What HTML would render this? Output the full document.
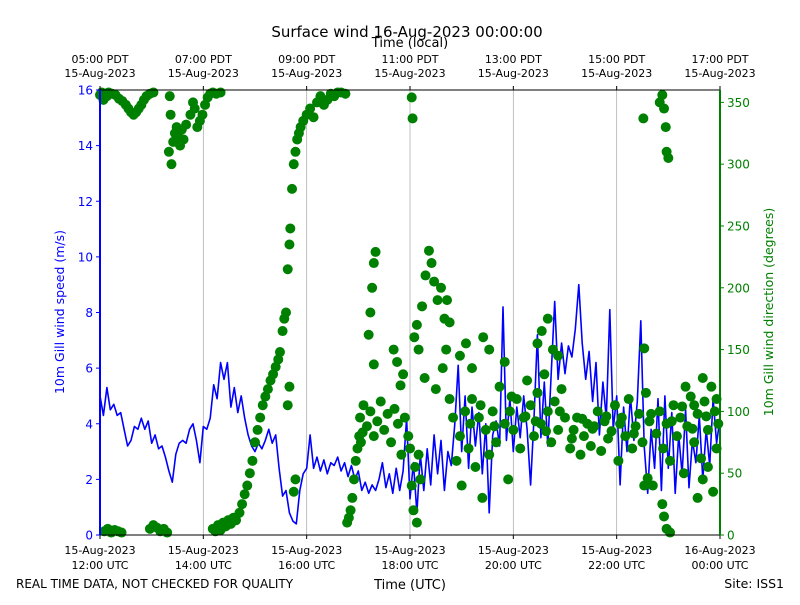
<!DOCTYPE html>
<html><head><meta charset="utf-8"><style>
body{margin:0;background:#fff;}
svg text{font-family:"DejaVu Sans","Liberation Sans",sans-serif;}
</style></head><body>
<svg id="chart" width="800" height="600" xmlns="http://www.w3.org/2000/svg">
<text x="407" y="37" font-size="15" text-anchor="middle">Surface wind 16-Aug-2023 00:00:00</text>
<text x="410" y="47" font-size="13" text-anchor="middle">Time (local)</text>
<text x="410" y="589" font-size="13" text-anchor="middle">Time (UTC)</text>
<text x="16" y="588" font-size="12">REAL TIME DATA, NOT CHECKED FOR QUALITY</text>
<text x="784" y="588" font-size="12.5" text-anchor="end">Site: ISS1</text>
<text transform="translate(64,312) rotate(-90)" font-size="12.5" fill="#0000ff" text-anchor="middle">10m Gill wind speed (m/s)</text>
<text transform="translate(773,312) rotate(-90)" font-size="12.5" fill="#008000" text-anchor="middle">10m Gill wind direction (degrees)</text>
<g id="grid"></g><g id="speed"></g><g id="dir"></g><g id="axes"></g>
</svg>
<script>
const speedStartMin = 0;
const speedStepMin = 4;
const speedValues = [5.0,4.3,5.3,4.5,4.7,4.3,4.4,3.8,3.2,3.4,3.9,3.8,4.2,3.8,4.1,3.3,3.6,3.1,3.2,2.8,2.3,1.9,2.9,3.3,3.4,3.3,3.8,4.0,3.4,2.6,3.9,3.8,4.2,5.4,4.9,6.2,5.6,6.2,4.6,5.3,4.4,5.0,4.2,3.6,3.2,3.0,3.3,3.1,3.4,3.8,3.3,3.6,2.4,1.4,1.6,0.8,0.5,0.4,1.6,2.2,2.4,3.6,2.4,2.8,2.3,2.7,2.2,2.6,2.5,2.8,2.3,2.6,2.1,2.5,2.0,2.3,1.6,1.9,1.5,1.8,1.6,2.0,2.6,1.7,2.2,1.5,2.4,1.6,2.3,4.2,1.3,2.6,0.8,2.9,1.6,3.1,1.8,3.6,2.2,3.4,1.6,3.0,2.5,4.0,6.1,3.0,5.0,2.4,4.6,3.2,4.4,2.2,4.0,0.8,3.6,4.1,3.2,8.2,3.4,4.9,3.0,4.6,3.5,5.0,3.8,1.8,4.2,7.2,3.5,5.5,3.2,5.8,8.4,5.6,6.9,5.8,6.8,6.4,7.4,9.0,6.9,5.6,6.6,4.8,6.2,3.6,5.5,4.2,8.1,3.8,5.0,1.8,4.6,3.0,5.0,3.4,4.8,7.7,3.2,1.5,3.8,2.4,4.9,1.6,5.0,2.4,4.4,1.5,3.6,2.2,4.5,1.7,3.4,2.6,4.3,2.0,3.8,2.5,4.9,3.3,4.2];
const dirTimes = [0,2,4,6,8,10,14,18,22,26,30,33,36,39,42,45,48,51,54,58,62,5,9,13,17,21,25,58,62,66,70,74,78,81,82,80,83,85,87,89,91,93,95,97,100,105,108,110,113,116,119,122,125,128,131,135,140,131,134,137,140,143,146,149,152,155,158,162,165,168,171,174,177,180,183,186,189,192,195,198,201,204,207,209,212,214,216,218,220,221,223,225,227,229,231,233,236,218,220,225,227,240,244,248,252,256,260,264,268,272,276,280,285,287,289,291,293,295,297,299,301,303,305,312,314,316,318,320,318,302,306,310,314,318,322,326,330,334,338,342,346,350,354,358,341,345,349,352,362,363,360,362,364,366,368,370,372,365,368,370,374,378,382,385,388,392,396,400,403,406,377,390,398,402,406,410,414,418,420,424,428,432,436,440,444,448,452,456,460,464,470,474,418,425,432,445,452,470,476,480,484,488,492,496,500,504,508,512,516,520,524,528,532,536,540,508,513,520,526,532,546,550,554,558,562,566,570,574,578,582,586,590,594,598,602,606,610,614,618,622,626,630,634,638,642,646,650,654,658,662,666,670,674,678,682,686,690,694,698,702,706,710,714,718,631,632,632,636,650,653,655,657,658,660,653,655,658,662,680,690,700,694,700,706,712,716,430,442,458,478,494,506,518,534,548,560,572,588,604,620,640,664,676,688,704,716];
const dirValues = [356,358,352,357,355,358,357,356,353,351,348,345,342,340,342,345,348,352,355,357,358,3,5,2,4,3,2,5,8,6,3,5,2,355,340,310,300,318,325,330,322,315,328,320,332,340,350,345,330,335,340,348,354,357,358,357,358,5,3,8,4,10,7,12,9,14,12,18,25,33,40,50,60,75,85,95,105,112,118,125,130,136,142,148,165,175,180,215,235,248,280,300,310,320,325,330,335,105,120,35,45,340,345,338,350,355,348,352,357,355,358,358,357,10,14,20,30,45,60,70,80,75,83,162,180,200,220,229,138,95,105,88,100,80,92,108,85,98,75,102,90,65,95,80,150,140,121,130,354,337,70,40,20,55,10,65,45,160,170,150,185,210,230,220,205,190,200,175,190,172,127,118,135,150,110,95,60,80,40,100,70,110,55,95,30,85,65,100,75,120,90,45,145,155,135,160,150,140,100,85,110,70,95,125,105,80,115,90,130,100,75,108,85,118,95,155,165,175,150,145,70,85,95,65,80,90,72,88,100,68,92,78,84,105,60,95,80,110,70,88,98,75,115,92,40,82,100,70,90,60,105,80,95,50,88,112,75,98,62,108,85,120,100,90,337,151,40,46,350,356,345,330,310,305,25,15,5,2,120,105,127,30,45,55,35,70,90,105,88,112,96,92,84,100,78,94,86,96,90,82,98,92,104,86,96,110];
const leftTicks = [0,2,4,6,8,10,12,14,16];
const rightTicks = [0,50,100,150,200,250,300,350];
const xTickMins = [0,120,240,360,480,600,720];
const utcDates = ["15-Aug-2023","15-Aug-2023","15-Aug-2023","15-Aug-2023","15-Aug-2023","15-Aug-2023","16-Aug-2023"];
const utcTimes = ["12:00 UTC","14:00 UTC","16:00 UTC","18:00 UTC","20:00 UTC","22:00 UTC","00:00 UTC"];
const localTimes = ["05:00 PDT","07:00 PDT","09:00 PDT","11:00 PDT","13:00 PDT","15:00 PDT","17:00 PDT"];

const L=100,R=720,T=90,B=535;
const NS="http://www.w3.org/2000/svg";
const xS=m=>L+(R-L)*m/720;
const yS=v=>B-(B-T)*v/16;
const yD=d=>B-(B-T)*d/360;
function mk(tag,attrs,parent,txt){const e=document.createElementNS(NS,tag);for(const k in attrs)e.setAttribute(k,attrs[k]);if(txt!==undefined)e.textContent=txt;parent.appendChild(e);return e;}
const grid=document.getElementById('grid'),axes=document.getElementById('axes');
xTickMins.forEach((m,i)=>{
  const x=xS(m);
  if(i>0&&i<xTickMins.length-1){const g=mk('line',{x1:x,x2:x,y1:T,y2:B,stroke:'#b0b0b0','stroke-width':0.8},grid);
  
  }
  mk('line',{x1:x,x2:x,y1:B,y2:B+4,stroke:'#000'},axes);
  mk('line',{x1:x,x2:x,y1:T,y2:T-4,stroke:'#000'},axes);
  const t1=mk('text',{x:x,y:554,'font-size':11,'text-anchor':'middle'},axes,utcDates[i]);
  
  
  const t2=mk('text',{x:x,y:569,'font-size':11,'text-anchor':'middle'},axes,utcTimes[i]);
  
  
  const t3=mk('text',{x:x,y:63,'font-size':11,'text-anchor':'middle'},axes,localTimes[i]);
  
  
  const t4=mk('text',{x:x,y:77,'font-size':11,'text-anchor':'middle'},axes,'15-Aug-2023');
  
  
});
leftTicks.forEach(v=>{const y=yS(v);mk('line',{x1:L-4,x2:L,y1:y,y2:y,stroke:'#0000ff'},axes);
  const t=mk('text',{x:L-7,y:y+4.5,'font-size':12,'text-anchor':'end',fill:'#0000ff'},axes,v);
  
  });
rightTicks.forEach(v=>{const y=yD(v);mk('line',{x1:R,x2:R+4,y1:y,y2:y,stroke:'#008000'},axes);
  const t=mk('text',{x:R+7,y:y+4.5,'font-size':12,fill:'#008000'},axes,v);
  
  });
mk('line',{x1:L,x2:R,y1:T,y2:T,stroke:'#000'},axes);
mk('line',{x1:L,x2:R,y1:B,y2:B,stroke:'#000'},axes);
mk('line',{x1:L,x2:L,y1:T,y2:B,stroke:'#0000ff','stroke-width':2},axes);
mk('line',{x1:R,x2:R,y1:T,y2:B,stroke:'#008000','stroke-width':2},axes);
const pts=speedValues.map((v,i)=>xS(speedStartMin+i*speedStepMin).toFixed(1)+','+yS(v).toFixed(1)).join(' ');
const pl=mk('polyline',{points:pts,fill:'none',stroke:'#0000ff','stroke-width':1.6,'stroke-linejoin':'round'},document.getElementById('speed'));


const dg=document.getElementById('dir');
dirTimes.forEach((m,i)=>{const c=mk('circle',{cx:xS(m),cy:yD(dirValues[i]),r:5,fill:'#008000'},dg);
  
  });
</script>
</body></html>
